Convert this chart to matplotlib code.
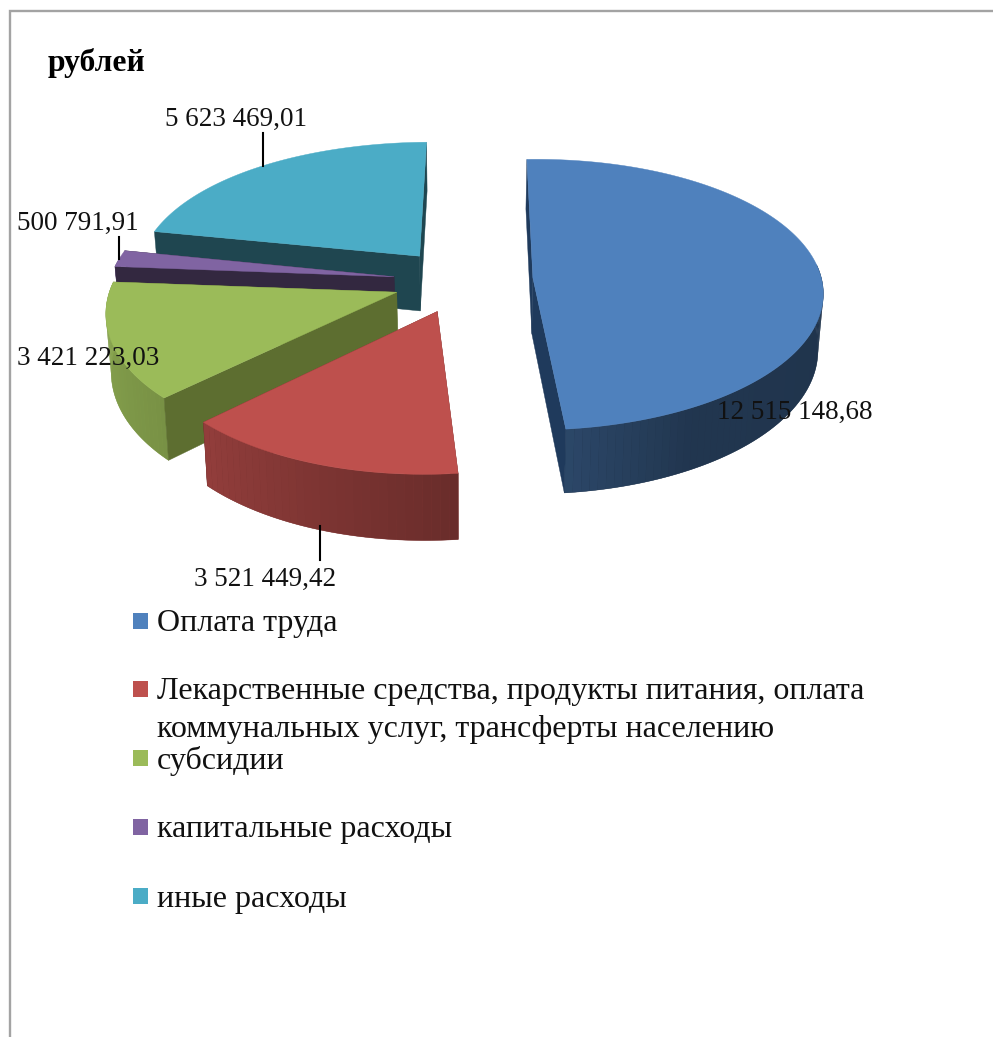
import numpy as np
import matplotlib
matplotlib.use('Agg')
import matplotlib.pyplot as plt
from matplotlib.patches import Polygon, Rectangle

plt.rcParams['font.family'] = ['Liberation Serif', 'DejaVu Serif']

##### DATA #####
names = ['Оплата труда',
         'Лекарственные средства, продукты питания, оплата\nкоммунальных услуг, трансферты населению',
         'субсидии',
         'капитальные расходы',
         'иные расходы']
values = [12515148.68, 3521449.42, 3421223.03, 500791.91, 5623469.01]
value_labels = ['12 515 148,68', '3 521 449,42', '3 421 223,03', '500 791,91', '5 623 469,01']
top_colors = ['#4F81BD', '#BE504D', '#9BBB59', '#8064A2', '#4BACC6']
wall_colors = ['#1F3A5C', '#6B2A28', '#5D6E30', '#332840', '#1F4650']

##### PIE GEOMETRY (pixels of the 993x1037 picture) #####
cx, cy = 463, 280
radius = 289
explode = 70
start_angle = -2
tilt = 0.463
persp = 0.125 / radius
shear = 0.037
height = 56
bottom_shrink = 0.985


def project(X, Y, down=0.0):
    X = np.asarray(X, dtype=float)
    Y = np.asarray(Y, dtype=float)
    w = 1.0 / (1.0 + persp * Y)
    left = np.minimum(X, 0) / 320.0
    sx = X * w + shear * Y + 6 * left ** 2
    sy = -tilt * Y * w + down * w - 5 * left ** 2
    if down:
        sx = sx * bottom_shrink
    return cx + sx, cy + sy


def shade(angle):
    # outer wall gets lighter from right round to the left
    return np.interp(angle % 360, [90, 150, 175, 225, 275], [0.40, 0.42, 0.56, 0.78, 0.90])


def radial_wall(ax, i, ox, oy, x_end, y_end):
    pts = [project(ox, oy), project(x_end, y_end),
           project(x_end, y_end, height), project(ox, oy, height)]
    ax.add_patch(Polygon(pts, closed=True, fc=wall_colors[i], ec=wall_colors[i], lw=0.3))


fig = plt.figure(figsize=(9.93, 10.37), dpi=100)
ax = fig.add_axes([0, 0, 1, 1])
ax.set_xlim(0, 993)
ax.set_ylim(1037, 0)
ax.axis('off')

# chart border, only top and left are in the crop
ax.plot([10, 10, 993], [1037, 11, 11], color='#A3A3A3', lw=1.7, solid_joinstyle='miter')

fractions = np.array(values) / np.sum(values)
edges = start_angle + np.concatenate([[0], np.cumsum(fractions)]) * 360

# back slices first so the front ones paint over them
order = [4, 3, 2, 1, 0]
arc_points = {}
for i in order:
    a0, a1 = edges[i], edges[i + 1]
    mid = np.radians((a0 + a1) / 2)
    ox, oy = explode * np.sin(mid), explode * np.cos(mid)
    ang = np.linspace(a0, a1, int(a1 - a0) * 2 + 2)
    X = ox + radius * np.sin(np.radians(ang))
    Y = oy + radius * np.cos(np.radians(ang))

    start_faces = np.sin(np.radians(a0)) < 0
    end_faces = np.sin(np.radians(a1)) > 0

    # walls turned away from us go under everything else
    if not start_faces:
        radial_wall(ax, i, ox, oy, X[0], Y[0])
    if not end_faces:
        radial_wall(ax, i, ox, oy, X[-1], Y[-1])

    # outer wall, only the part that looks to the front
    vis = np.where(np.cos(np.radians(ang)) < 0.1)[0]
    base = np.array(matplotlib.colors.to_rgb(top_colors[i]))
    if len(vis) > 1:
        tx, ty = project(X[vis], Y[vis])
        bx, by = project(X[vis], Y[vis], height)
        under = base * shade(ang[vis].mean())
        ax.add_patch(Polygon(np.column_stack([np.r_[tx, bx[::-1]], np.r_[ty, by[::-1]]]),
                             closed=True, fc=under, ec=under, lw=0.3))
        for j in range(0, len(vis) - 1, 3):
            k = min(j + 3, len(vis) - 1)
            pts = [(tx[j], ty[j]), (tx[k], ty[k]), (bx[k], by[k]), (bx[j], by[j])]
            ax.add_patch(Polygon(pts, closed=True, fc=base * shade(ang[vis[j]]), ec='none', lw=0))

    if start_faces:
        radial_wall(ax, i, ox, oy, X[0], Y[0])
    if end_faces:
        radial_wall(ax, i, ox, oy, X[-1], Y[-1])

    # top of the slice
    sx, sy = project(X, Y)
    ax0, ay0 = project(ox, oy)
    top = np.column_stack([np.r_[ax0, sx], np.r_[ay0, sy]])
    ax.add_patch(Polygon(top, closed=True, fc=top_colors[i], ec=top_colors[i], lw=0.3))

    mx = ox + radius * np.sin(mid)
    my = oy + radius * np.cos(mid)
    arc_points[i] = (project(mx, my), project(mx, my, height))

##### DATA LABELS #####
label_size = 19.5
ax.text(795, 419, value_labels[0], fontsize=label_size, ha='center', va='baseline', color='#111111')
ax.text(88, 365, value_labels[2], fontsize=label_size, ha='center', va='baseline', color='#111111')

# leader lines start on the arc at the middle of the slice
lx, ly = arc_points[4][0]
ax.plot([lx, lx], [ly, ly - 33], color='black', lw=1.5)
ax.text(236, 126, value_labels[4], fontsize=label_size, ha='center', va='baseline', color='#111111')

lx, ly = arc_points[3][0]
ax.plot([lx, lx], [ly, ly - 22], color='black', lw=1.5)
ax.text(78, 230, value_labels[3], fontsize=label_size, ha='center', va='baseline', color='#111111')

lx, ly = arc_points[1][1]
ax.plot([lx + 3, lx + 3], [ly - 3, ly + 31], color='black', lw=1.5)
ax.text(265, 586, value_labels[1], fontsize=label_size, ha='center', va='baseline', color='#111111')

ax.text(48, 71, 'рублей', fontsize=22.8, fontweight='bold', ha='left', va='baseline', color='black')

##### LEGEND #####
legend_y = [620.5, 689, 758, 827, 896]
for name, color, y in zip(names, top_colors, legend_y):
    ax.add_patch(Rectangle((133, y - 8), 15, 16, fc=color, ec='none'))
    for n, line in enumerate(name.split('\n')):
        ax.text(157, y + 10.5 + n * 38, line, fontsize=23, ha='left', va='baseline', color='#111111')

fig.savefig('out.png', dpi=100)
